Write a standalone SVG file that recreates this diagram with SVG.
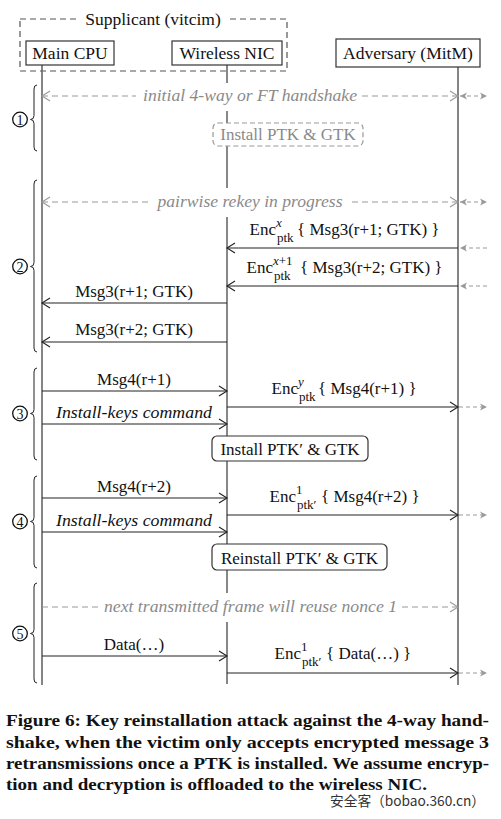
<svg xmlns="http://www.w3.org/2000/svg" width="501" height="819" viewBox="0 0 501 819">
<defs>
<style>
.t{font-family:"Liberation Serif","Times New Roman",serif;font-size:17px;fill:#111}
.it{font-style:italic}
.gr{fill:#8a8a8a;font-style:italic}
.sm{font-size:13px}
.box{fill:#fff;stroke:#333;stroke-width:1.2}
.msg{stroke:#222;stroke-width:1.2;fill:none}
.dsh{stroke:#999;stroke-width:1.2;stroke-dasharray:6 4;fill:none}
.ext{stroke:#999;stroke-width:1.2;stroke-dasharray:4 3;fill:none}
.brace{stroke:#222;stroke-width:1;fill:none}
.cap{font-family:"Liberation Serif","Times New Roman",serif;font-size:17px;font-weight:bold;fill:#111}
</style>
<marker id="ah" markerUnits="userSpaceOnUse" markerWidth="10" markerHeight="12" refX="8" refY="5" orient="auto-start-reverse" overflow="visible"><path d="M0,0 L8,5 L0,10" fill="none" stroke="#222" stroke-width="1.1"/></marker>
<marker id="ahg" markerUnits="userSpaceOnUse" markerWidth="10" markerHeight="12" refX="8" refY="5" orient="auto-start-reverse" overflow="visible"><path d="M0,0 L8,5 L0,10" fill="none" stroke="#999" stroke-width="1.1"/></marker>
<marker id="sg" markerUnits="userSpaceOnUse" markerWidth="8" markerHeight="8" refX="7" refY="3.5" orient="auto-start-reverse" overflow="visible"><path d="M0,0 L7,3.5 L0,7 L2,3.5Z" fill="#999"/></marker>
</defs>
<rect width="501" height="819" fill="#fff"/>

<g id="supplicant">
<rect x="20" y="19" width="267" height="52" fill="none" stroke="#555" stroke-width="1.2" stroke-dasharray="6 4"/>
<rect x="78" y="9" width="150" height="20" fill="#fff"/>
<text x="153" y="25" text-anchor="middle" class="t" style="font-size:17.5px">Supplicant (vitcim)</text>
</g>

<g id="lifelines">
<line x1="42" y1="65" x2="42" y2="685" stroke="#666" stroke-width="1.6"/>
<line x1="227" y1="65" x2="227" y2="684" stroke="#111" stroke-width="1"/>
<line x1="458" y1="67" x2="458" y2="685" stroke="#666" stroke-width="1.6"/>
</g>

<g id="main-cpu">
<rect class="box" x="26" y="41" width="88" height="24"/>
<text class="t" x="70" y="59" text-anchor="middle" style="font-size:17.5px">Main CPU</text>
</g>
<g id="wireless-nic">
<rect class="box" x="172" y="41" width="110" height="24"/>
<text class="t" x="227" y="59" text-anchor="middle" style="font-size:17.5px">Wireless NIC</text>
</g>
<g id="adversary">
<rect class="box" x="336" y="39" width="144" height="28"/>
<text class="t" x="408" y="59" text-anchor="middle" style="font-size:17.5px">Adversary (MitM)</text>
</g>

<g id="connectors">
<line class="dsh" x1="42" y1="96" x2="458" y2="96" marker-start="url(#ahg)" marker-end="url(#ahg)"/>
<line class="ext" x1="460" y1="96" x2="487" y2="96" marker-start="url(#sg)" marker-end="url(#sg)"/>
<line class="dsh" x1="42" y1="202" x2="458" y2="202" marker-start="url(#ahg)" marker-end="url(#ahg)"/>
<line class="ext" x1="460" y1="202" x2="487" y2="202" marker-start="url(#sg)" marker-end="url(#sg)"/>
<line class="msg" x1="458" y1="248" x2="227" y2="248" marker-end="url(#ah)"/>
<line class="ext" x1="487" y1="248" x2="460" y2="248" marker-end="url(#sg)"/>
<line class="msg" x1="458" y1="286" x2="227" y2="286" marker-end="url(#ah)"/>
<line class="ext" x1="487" y1="286" x2="460" y2="286" marker-end="url(#sg)"/>
<line class="msg" x1="227" y1="303" x2="42" y2="303" marker-end="url(#ah)"/>
<line class="msg" x1="227" y1="342" x2="42" y2="342" marker-end="url(#ah)"/>
<line class="msg" x1="42" y1="391" x2="227" y2="391" marker-end="url(#ah)"/>
<line class="msg" x1="227" y1="407" x2="458" y2="407" marker-end="url(#ah)"/>
<line class="ext" x1="459" y1="407" x2="487" y2="407" marker-end="url(#sg)"/>
<line class="msg" x1="42" y1="424" x2="227" y2="424" marker-end="url(#ah)"/>
<line class="msg" x1="42" y1="498" x2="227" y2="498" marker-end="url(#ah)"/>
<line class="msg" x1="227" y1="515" x2="458" y2="515" marker-end="url(#ah)"/>
<line class="ext" x1="459" y1="515" x2="487" y2="515" marker-end="url(#sg)"/>
<line class="msg" x1="42" y1="532" x2="227" y2="532" marker-end="url(#ah)"/>
<line class="dsh" x1="42" y1="607" x2="458" y2="607" marker-end="url(#ahg)"/>
<line class="msg" x1="42" y1="656" x2="227" y2="656" marker-end="url(#ah)"/>
<line class="msg" x1="227" y1="673" x2="458" y2="673" marker-end="url(#ah)"/>
<line class="ext" x1="459" y1="673" x2="487" y2="673" marker-end="url(#sg)"/>
</g>

<g id="labels">
<rect x="136" y="83" width="226" height="28" fill="#fff"/>
<text class="t gr" x="250" y="101" text-anchor="middle" textLength="214" lengthAdjust="spacingAndGlyphs">initial 4-way or FT handshake</text>
<rect x="152" y="188" width="198" height="29" fill="#fff"/>
<text class="t gr" x="250" y="207" text-anchor="middle" textLength="185" lengthAdjust="spacingAndGlyphs">pairwise rekey in progress</text>
<rect x="99" y="593" width="302" height="29" fill="#fff"/>
<text class="t gr" x="250.5" y="612" text-anchor="middle" textLength="293" lengthAdjust="spacingAndGlyphs">next transmitted frame will reuse nonce 1</text>

<text class="t" x="276" y="235" text-anchor="end">Enc</text>
<text class="t sm it" x="276" y="227">x</text>
<text class="t sm" x="277" y="242">ptk</text>
<text class="t" x="297" y="235">{ Msg3(r+1; GTK) }</text>

<text class="t" x="273" y="273" text-anchor="end">Enc</text>
<text class="t sm" x="273" y="265"><tspan class="it">x</tspan>+1</text>
<text class="t sm" x="274" y="280">ptk</text>
<text class="t" x="300" y="273">{ Msg3(r+2; GTK) }</text>

<text class="t" x="134" y="297" text-anchor="middle">Msg3(r+1; GTK)</text>
<text class="t" x="134" y="335" text-anchor="middle">Msg3(r+2; GTK)</text>

<text class="t" x="134" y="385" text-anchor="middle">Msg4(r+1)</text>
<text class="t it" x="134" y="418" text-anchor="middle" textLength="156" lengthAdjust="spacingAndGlyphs">Install-keys command</text>
<text class="t" x="298" y="394" text-anchor="end">Enc</text>
<text class="t sm it" x="298" y="386">y</text>
<text class="t sm" x="299" y="401">ptk</text>
<text class="t" x="318" y="394">{ Msg4(r+1) }</text>

<text class="t" x="134" y="492" text-anchor="middle">Msg4(r+2)</text>
<text class="t it" x="134" y="526" text-anchor="middle" textLength="156" lengthAdjust="spacingAndGlyphs">Install-keys command</text>
<text class="t" x="296" y="502" text-anchor="end">Enc</text>
<text class="t sm" x="296" y="494">1</text>
<text class="t sm" x="297" y="509">ptk′</text>
<text class="t" x="321" y="502">{ Msg4(r+2) }</text>

<text class="t" x="134" y="650" text-anchor="middle">Data(…)</text>
<text class="t" x="301" y="659" text-anchor="end">Enc</text>
<text class="t sm" x="301" y="651">1</text>
<text class="t sm" x="302" y="666">ptk′</text>
<text class="t" x="326" y="659">{ Data(…) }</text>
</g>

<g id="install-1">
<rect x="213" y="123" width="150" height="23" rx="5" fill="#fff" stroke="#999" stroke-width="1.2" stroke-dasharray="5 3"/>
<text class="t" x="288" y="140" text-anchor="middle" style="fill:#8a8a8a">Install PTK &amp; GTK</text>
</g>
<g id="install-2">
<rect class="box" x="212" y="436" width="156" height="25" rx="5"/>
<text class="t" x="290" y="455" text-anchor="middle">Install PTK′ &amp; GTK</text>
</g>
<g id="reinstall">
<rect class="box" x="212" y="544" width="175" height="26" rx="5"/>
<text class="t" x="299.5" y="564" text-anchor="middle">Reinstall PTK′ &amp; GTK</text>
</g>

<g id="stages">
<path class="brace" d="M37,85 Q34,85 34,89 L34,115.5 Q34,119.5 30.5,119.5 Q34,119.5 34,123.5 L34,147 Q34,151 37,151"/>
<path class="brace" d="M37,180 Q34,180 34,184 L34,262.5 Q34,266.5 30.5,266.5 Q34,266.5 34,270.5 L34,348 Q34,352 37,352"/>
<path class="brace" d="M37,368 Q34,368 34,372 L34,409.5 Q34,413.5 30.5,413.5 Q34,413.5 34,417.5 L34,456 Q34,460 37,460"/>
<path class="brace" d="M37,476 Q34,476 34,480 L34,517.5 Q34,521.5 30.5,521.5 Q34,521.5 34,525.5 L34,564 Q34,568 37,568"/>
<path class="brace" d="M37,583 Q34,583 34,587 L34,629.5 Q34,633.5 30.5,633.5 Q34,633.5 34,637.5 L34,679 Q34,683 37,683"/>
<g fill="none" stroke="#111" stroke-width="1.3">
<circle cx="20" cy="119.5" r="7.3"/>
<circle cx="20" cy="266.5" r="7.3"/>
<circle cx="20" cy="413.5" r="7.3"/>
<circle cx="20" cy="521.5" r="7.3"/>
<circle cx="20" cy="633.5" r="7.3"/>
</g>
<g class="t" style="font-size:14px" text-anchor="middle">
<text x="20" y="124.5">1</text>
<text x="20" y="271.5">2</text>
<text x="20" y="418.5">3</text>
<text x="20" y="526.5">4</text>
<text x="20" y="638.5">5</text>
</g>
</g>

<g id="caption">
<text class="cap" x="6" y="726" textLength="483" lengthAdjust="spacingAndGlyphs">Figure 6: Key reinstallation attack against the 4-way hand-</text>
<text class="cap" x="6" y="748" textLength="483" lengthAdjust="spacingAndGlyphs">shake, when the victim only accepts encrypted message 3</text>
<text class="cap" x="6" y="769" textLength="483" lengthAdjust="spacingAndGlyphs">retransmissions once a PTK is installed. We assume encryp-</text>
<text class="cap" x="6" y="790" textLength="421" lengthAdjust="spacingAndGlyphs">tion and decryption is offloaded to the wireless NIC.</text>
<text x="330" y="806" textLength="155" lengthAdjust="spacingAndGlyphs" style="font-family:'Noto Sans CJK SC','Noto Sans',sans-serif;font-size:14px;fill:#333">安全客（bobao.360.cn）</text>
</g>
</svg>
